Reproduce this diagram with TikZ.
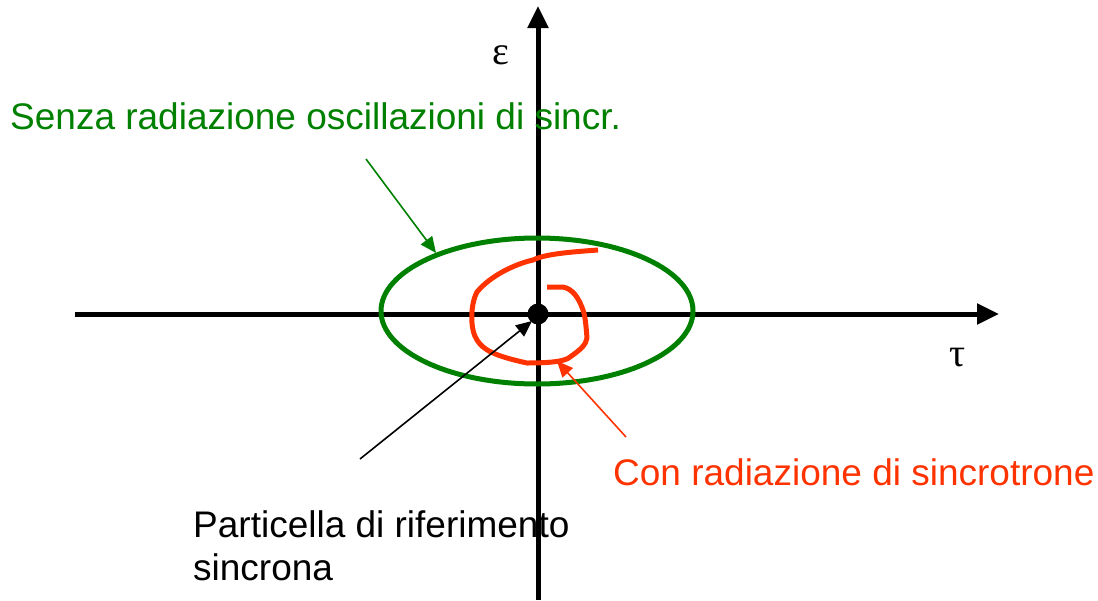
\documentclass[tikz,border=0pt]{standalone}
\usepackage{fontspec}
\setmainfont{Liberation Sans}
\newfontfamily\grk{Liberation Serif}
\usetikzlibrary{arrows.meta,shapes.geometric}
\definecolor{dgreen}{RGB}{0,128,0}
\definecolor{sred}{RGB}{255,51,0}
\begin{document}
\begin{tikzpicture}[x=1pt,y=-1pt,
  axis/.style={line width=5pt,-{Triangle[length=22pt,width=20pt]}},
  lbl/.style={anchor=base west,inner sep=0pt,font=\fontsize{37}{43}\selectfont},
  pointer/.style={line width=1.6pt,-{Triangle[length=16pt,width=14pt]}}]
\useasboundingbox (0,0) rectangle (1098,600);
% axes
\coordinate (xs) at (75,314);
\coordinate (xe) at (999,314);
\coordinate (ys) at (538,600);
\coordinate (ye) at (538,6);
\draw[axis] (xs) -- (xe);
\draw[axis] (ys) -- (ye);
% ellipse
\node[draw=dgreen,line width=5pt,ellipse,minimum width=312pt,minimum height=146pt,inner sep=0pt] (ell) at (537,311) {};
% spiral
\draw[sred,line width=5pt,line join=round,line cap=butt]
  (598,250) .. controls (570,252) and (545,254) .. (533,260)
  .. controls (515,264) and (490,276) .. (477,292)
  .. controls (470,305) and (470,330) .. (477,340)
  .. controls (483,350) and (495,356) .. (527,363)
  .. controls (545,363) and (565,362) .. (570,357)
  .. controls (580,350) and (586,345) .. (587,338)
  .. controls (586,325) and (585,315) .. (583,310)
  .. controls (578,296) and (572,289) .. (563,287)
  -- (547,287);
% dot
\node[circle,fill=black,minimum size=21pt,inner sep=0pt] (dot) at (538,314) {};
% labels
\node[lbl,text=dgreen] (senza) at (10,129) {Senza radiazione oscillazioni di sincr.};
\node[lbl,text=sred] (con) at (613,485) {Con radiazione di sincrotrone};
\node[lbl,align=left] (part) at (193,580) {Particella di riferimento\\sincrona};
\node[inner sep=0pt,anchor=base,font=\grk\fontsize{40}{44}\selectfont] (eps) at (501,64) {ε};
\node[inner sep=0pt,anchor=base,font=\grk\fontsize{40}{44}\selectfont] (tau) at (958,366) {τ};
% pointers
\coordinate (gt) at (366,159);
\coordinate (gh) at (436,253);
\draw[pointer,dgreen] (gt) -- (gh);
\coordinate (rt) at (626,437);
\coordinate (rh) at (557,361);
\draw[pointer,sred] (rt) -- (rh);
\coordinate (bt) at (360,459);
\coordinate (bh) at (532,321);
\draw[pointer,black] (bt) -- (bh);
\end{tikzpicture}
\end{document}
